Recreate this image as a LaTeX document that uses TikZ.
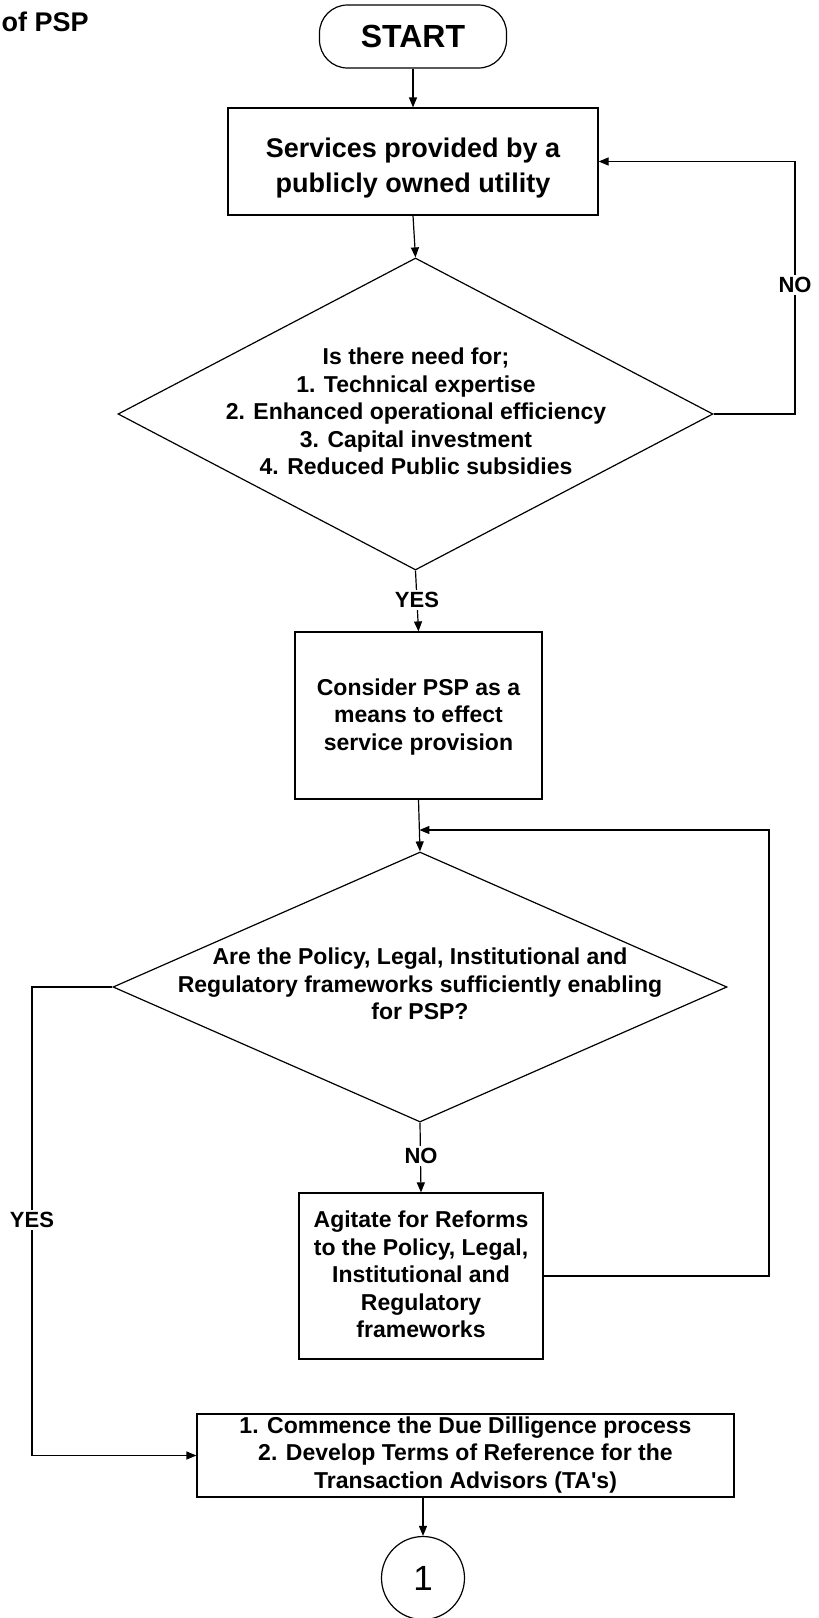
\documentclass[tikz,border=0pt]{standalone}
\usepackage{fontspec}
\setmainfont{Liberation Sans}
\usetikzlibrary{shapes.geometric,arrows.meta}
\begin{document}
\begin{tikzpicture}[x=1pt,y=-1pt,line width=1.2pt,
  flow/.style={-{Triangle[length=10pt,width=8pt]}},
  frame/.style={draw,rectangle,inner sep=0pt},
  decision/.style={draw,diamond,inner sep=0pt},
  txt/.style={align=center,inner sep=0pt,font=\bfseries\fontsize{23}{27.5}\selectfont},
  tag/.style={fill=white,inner sep=2.5pt,font=\bfseries\fontsize{22}{26}\selectfont}]
\useasboundingbox (0,0) rectangle (819,1618);

% heading fragment
\node[anchor=base west,inner sep=0pt,font=\bfseries\fontsize{27}{32}\selectfont] (title) at (1,31) {of PSP};

% terminal
\node[draw,rounded corners=28pt,minimum width=187pt,minimum height=63pt,inner sep=0pt,
      font=\bfseries\fontsize{32}{38}\selectfont] (start) at (413,36.5) {START};

% process boxes and decisions
\node[frame,minimum width=370pt,minimum height=107pt] (svc) at (413,161.5) {};
\node[txt,font=\bfseries\fontsize{27}{35}\selectfont] (svct) at (413,168) {Services provided by a\\publicly owned utility};

\node[decision,minimum width=595pt,minimum height=312pt] (d1) at (415.5,414) {};
\node[txt] (d1t) at (416,411.5) {Is there need for;\\1. Technical expertise\\2. Enhanced operational efficiency\\3. Capital investment\\4. Reduced Public subsidies};

\node[frame,minimum width=247pt,minimum height=167pt] (cons) at (418.5,715.5) {};
\node[txt] (const) at (418.5,717) {Consider PSP as a\\means to effect\\service provision};

\node[decision,minimum width=614pt,minimum height=270pt] (d2) at (420,987) {};
\node[txt] (d2t) at (420,984) {Are the Policy, Legal, Institutional and\\Regulatory frameworks sufficiently enabling\\for PSP?};

\node[frame,minimum width=244pt,minimum height=166pt] (agit) at (421,1276) {};
\node[txt] (agitt) at (421,1274.6) {Agitate for Reforms\\to the Policy, Legal,\\Institutional and\\Regulatory\\frameworks};

\node[frame,minimum width=537pt,minimum height=83pt] (fin) at (465.5,1455.5) {};
\node[txt] (fint) at (465.5,1454.6) {1. Commence the Due Dilligence process\\2. Develop Terms of Reference for the\\Transaction Advisors (TA\textquotesingle s)};

% off-page connector
\node[draw,circle,minimum size=83pt,inner sep=0pt,font=\fontsize{35}{40}\selectfont] (conn) at (423,1578) {1};

% main flow
\draw[flow] (start) -- (svc);
\draw[flow] (svc.south) -- (d1.north);
\draw[flow] (d1.south) -- (cons.north);
\draw[flow] (cons.south) -- (d2.north);
\draw[flow] (d2.south) -- (agit.north);
\draw[flow] (fin.south -| conn.north) -- (conn.north);

% return loops and the YES branch
\coordinate (r1) at (795,0);
\draw[flow] (d1.east) -- (d1.east -| r1) |- (svc.east);
\coordinate (r2) at (769,0);
\coordinate (j2) at (419.4,830);
\draw[flow] (agit.east) -- (agit.east -| r2) |- (j2);
\coordinate (l1) at (32,0);
\draw[flow] (d2.west) -- (d2.west -| l1) |- (fin.west);

% branch labels
\node[tag] (no1) at (795,285) {NO};
\node[tag] (yes1) at (417,600) {YES};
\node[tag] (no2) at (421,1156) {NO};
\node[tag] (yes2) at (32,1220) {YES};
\end{tikzpicture}
\end{document}
